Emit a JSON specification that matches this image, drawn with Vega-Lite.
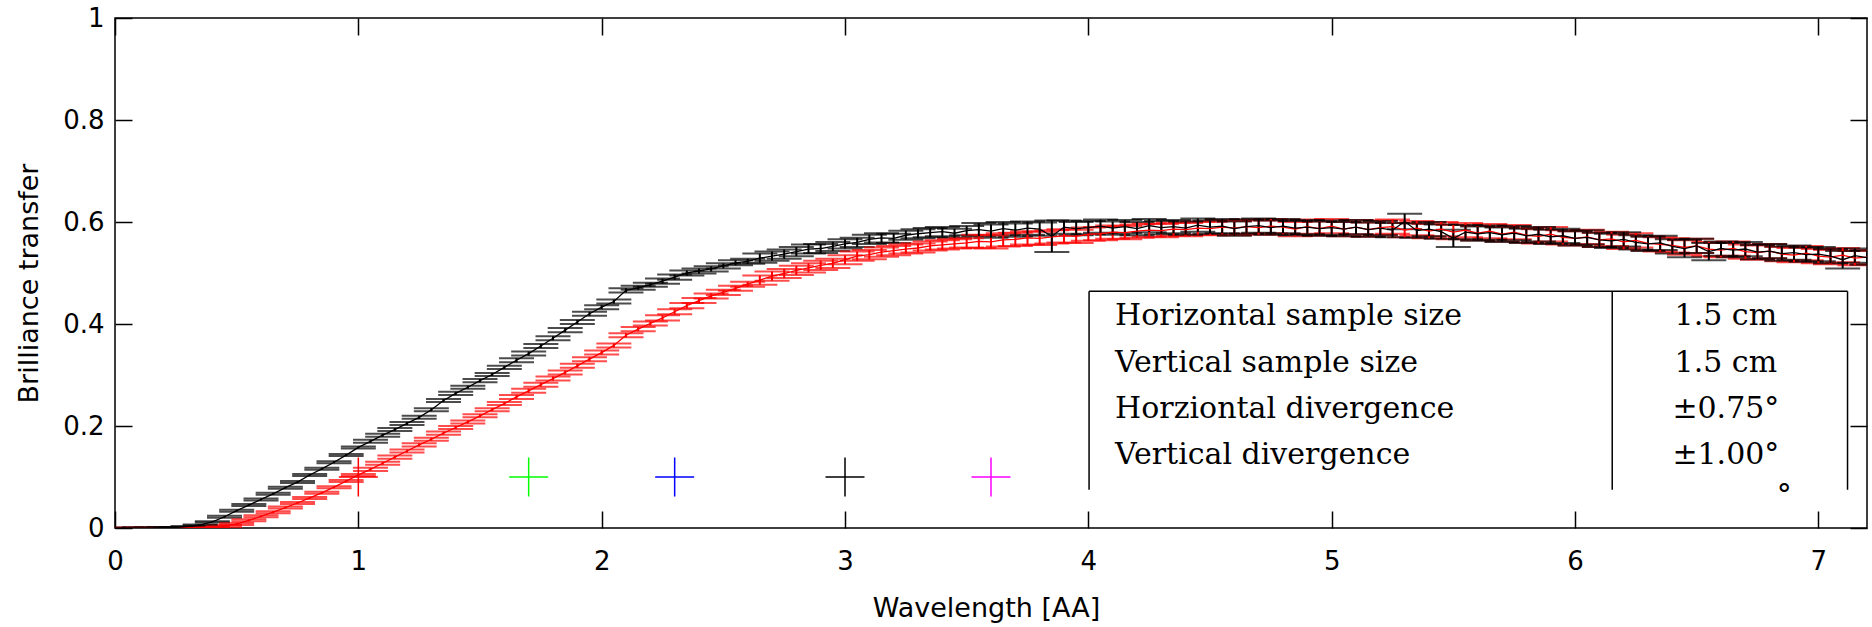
{
  "$schema": "https://vega.github.io/schema/vega-lite/v6.json",
  "width": 1752,
  "height": 510,
  "autosize": {"type": "none"},
  "padding": {"left": 115, "top": 18, "right": 5, "bottom": 99},
  "background": "white",
  "config": {"view": {"stroke": "#000000", "strokeWidth": 1.5}},
  "datasets": {
    "pts": [
      {"s":"R","x":0.05,"y":0,"e":0.001},{"s":"R","x":0.1,"y":0,"e":0.001},{"s":"R","x":0.15,"y":0,"e":0.001},{"s":"R","x":0.2,"y":0,"e":0.001},
      {"s":"R","x":0.25,"y":0,"e":0.001},{"s":"R","x":0.3,"y":0,"e":0.001},{"s":"R","x":0.35,"y":0.001,"e":0.001},{"s":"R","x":0.4,"y":0.002,"e":0.001},
      {"s":"R","x":0.45,"y":0.004,"e":0.002},{"s":"R","x":0.5,"y":0.008,"e":0.002},{"s":"R","x":0.55,"y":0.015,"e":0.002},{"s":"R","x":0.6,"y":0.023,"e":0.002},
      {"s":"R","x":0.65,"y":0.031,"e":0.002},{"s":"R","x":0.7,"y":0.04,"e":0.002},{"s":"R","x":0.75,"y":0.049,"e":0.002},{"s":"R","x":0.8,"y":0.059,"e":0.002},
      {"s":"R","x":0.85,"y":0.069,"e":0.002},{"s":"R","x":0.9,"y":0.08,"e":0.002},{"s":"R","x":0.95,"y":0.092,"e":0.002},{"s":"R","x":1.0,"y":0.104,"e":0.002},
      {"s":"R","x":1.05,"y":0.115,"e":0.003},{"s":"R","x":1.1,"y":0.127,"e":0.003},{"s":"R","x":1.15,"y":0.139,"e":0.003},{"s":"R","x":1.2,"y":0.151,"e":0.003},
      {"s":"R","x":1.25,"y":0.163,"e":0.003},{"s":"R","x":1.3,"y":0.174,"e":0.003},{"s":"R","x":1.35,"y":0.186,"e":0.003},{"s":"R","x":1.4,"y":0.197,"e":0.003},
      {"s":"R","x":1.45,"y":0.208,"e":0.003},{"s":"R","x":1.5,"y":0.22,"e":0.003},{"s":"R","x":1.55,"y":0.232,"e":0.003},{"s":"R","x":1.6,"y":0.244,"e":0.003},
      {"s":"R","x":1.65,"y":0.257,"e":0.004},{"s":"R","x":1.7,"y":0.269,"e":0.004},{"s":"R","x":1.75,"y":0.281,"e":0.004},{"s":"R","x":1.8,"y":0.293,"e":0.004},
      {"s":"R","x":1.85,"y":0.305,"e":0.004},{"s":"R","x":1.9,"y":0.318,"e":0.004},{"s":"R","x":1.95,"y":0.331,"e":0.004},{"s":"R","x":2.0,"y":0.344,"e":0.004},
      {"s":"R","x":2.05,"y":0.358,"e":0.004},{"s":"R","x":2.1,"y":0.378,"e":0.004},{"s":"R","x":2.15,"y":0.39,"e":0.004},{"s":"R","x":2.2,"y":0.401,"e":0.004},
      {"s":"R","x":2.25,"y":0.412,"e":0.005},{"s":"R","x":2.3,"y":0.424,"e":0.005},{"s":"R","x":2.35,"y":0.436,"e":0.005},{"s":"R","x":2.4,"y":0.446,"e":0.005},
      {"s":"R","x":2.45,"y":0.455,"e":0.005},{"s":"R","x":2.5,"y":0.462,"e":0.005},{"s":"R","x":2.55,"y":0.47,"e":0.005},{"s":"R","x":2.6,"y":0.478,"e":0.005},
      {"s":"R","x":2.65,"y":0.486,"e":0.009},{"s":"R","x":2.7,"y":0.494,"e":0.009},{"s":"R","x":2.75,"y":0.499,"e":0.009},{"s":"R","x":2.8,"y":0.505,"e":0.009},
      {"s":"R","x":2.85,"y":0.51,"e":0.009},{"s":"R","x":2.9,"y":0.515,"e":0.009},{"s":"R","x":2.95,"y":0.519,"e":0.009},{"s":"R","x":3.0,"y":0.526,"e":0.009},
      {"s":"R","x":3.05,"y":0.533,"e":0.009},{"s":"R","x":3.1,"y":0.536,"e":0.009},{"s":"R","x":3.15,"y":0.541,"e":0.009},{"s":"R","x":3.2,"y":0.544,"e":0.009},
      {"s":"R","x":3.25,"y":0.547,"e":0.009},{"s":"R","x":3.3,"y":0.549,"e":0.009},{"s":"R","x":3.35,"y":0.553,"e":0.009},{"s":"R","x":3.4,"y":0.555,"e":0.009},
      {"s":"R","x":3.45,"y":0.557,"e":0.009},{"s":"R","x":3.5,"y":0.559,"e":0.009},{"s":"R","x":3.55,"y":0.562,"e":0.013},{"s":"R","x":3.6,"y":0.561,"e":0.013},
      {"s":"R","x":3.65,"y":0.565,"e":0.013},{"s":"R","x":3.7,"y":0.566,"e":0.013},{"s":"R","x":3.75,"y":0.569,"e":0.013},{"s":"R","x":3.8,"y":0.568,"e":0.013},
      {"s":"R","x":3.85,"y":0.571,"e":0.013},{"s":"R","x":3.9,"y":0.573,"e":0.013},{"s":"R","x":3.95,"y":0.572,"e":0.013},{"s":"R","x":4.0,"y":0.576,"e":0.013},
      {"s":"R","x":4.05,"y":0.577,"e":0.013},{"s":"R","x":4.1,"y":0.58,"e":0.013},{"s":"R","x":4.15,"y":0.579,"e":0.013},{"s":"R","x":4.2,"y":0.582,"e":0.013},
      {"s":"R","x":4.25,"y":0.584,"e":0.013},{"s":"R","x":4.3,"y":0.583,"e":0.013},{"s":"R","x":4.35,"y":0.586,"e":0.013},{"s":"R","x":4.4,"y":0.585,"e":0.013},
      {"s":"R","x":4.45,"y":0.588,"e":0.013},{"s":"R","x":4.5,"y":0.587,"e":0.013},{"s":"R","x":4.55,"y":0.59,"e":0.014},{"s":"R","x":4.6,"y":0.588,"e":0.014},
      {"s":"R","x":4.65,"y":0.591,"e":0.014},{"s":"R","x":4.7,"y":0.589,"e":0.014},{"s":"R","x":4.75,"y":0.592,"e":0.014},{"s":"R","x":4.8,"y":0.59,"e":0.014},
      {"s":"R","x":4.85,"y":0.586,"e":0.014},{"s":"R","x":4.9,"y":0.591,"e":0.014},{"s":"R","x":4.95,"y":0.587,"e":0.014},{"s":"R","x":5.0,"y":0.592,"e":0.014},
      {"s":"R","x":5.05,"y":0.586,"e":0.014},{"s":"R","x":5.1,"y":0.59,"e":0.014},{"s":"R","x":5.15,"y":0.585,"e":0.014},{"s":"R","x":5.2,"y":0.589,"e":0.014},
      {"s":"R","x":5.25,"y":0.591,"e":0.014},{"s":"R","x":5.3,"y":0.584,"e":0.014},{"s":"R","x":5.35,"y":0.588,"e":0.014},{"s":"R","x":5.4,"y":0.582,"e":0.014},
      {"s":"R","x":5.45,"y":0.586,"e":0.014},{"s":"R","x":5.5,"y":0.58,"e":0.014},{"s":"R","x":5.55,"y":0.584,"e":0.014},{"s":"R","x":5.6,"y":0.578,"e":0.014},
      {"s":"R","x":5.65,"y":0.582,"e":0.014},{"s":"R","x":5.7,"y":0.576,"e":0.014},{"s":"R","x":5.75,"y":0.58,"e":0.014},{"s":"R","x":5.8,"y":0.574,"e":0.014},
      {"s":"R","x":5.85,"y":0.572,"e":0.014},{"s":"R","x":5.9,"y":0.576,"e":0.014},{"s":"R","x":5.95,"y":0.57,"e":0.014},{"s":"R","x":6.0,"y":0.568,"e":0.014},
      {"s":"R","x":6.05,"y":0.571,"e":0.014},{"s":"R","x":6.1,"y":0.565,"e":0.014},{"s":"R","x":6.15,"y":0.567,"e":0.014},{"s":"R","x":6.2,"y":0.561,"e":0.014},
      {"s":"R","x":6.25,"y":0.564,"e":0.014},{"s":"R","x":6.3,"y":0.558,"e":0.014},{"s":"R","x":6.35,"y":0.556,"e":0.014},{"s":"R","x":6.4,"y":0.554,"e":0.014},
      {"s":"R","x":6.45,"y":0.55,"e":0.014},{"s":"R","x":6.5,"y":0.553,"e":0.014},{"s":"R","x":6.55,"y":0.547,"e":0.014},{"s":"R","x":6.6,"y":0.545,"e":0.014},
      {"s":"R","x":6.65,"y":0.548,"e":0.014},{"s":"R","x":6.7,"y":0.542,"e":0.014},{"s":"R","x":6.75,"y":0.54,"e":0.014},{"s":"R","x":6.8,"y":0.543,"e":0.014},
      {"s":"R","x":6.85,"y":0.537,"e":0.014},{"s":"R","x":6.9,"y":0.535,"e":0.014},{"s":"R","x":6.95,"y":0.539,"e":0.014},{"s":"R","x":7.0,"y":0.533,"e":0.014},
      {"s":"R","x":7.05,"y":0.531,"e":0.014},{"s":"R","x":7.1,"y":0.535,"e":0.014},{"s":"R","x":7.15,"y":0.529,"e":0.014},{"s":"R","x":7.2,"y":0.531,"e":0.014},
      {"s":"B","x":0.05,"y":0,"e":0.001},{"s":"B","x":0.1,"y":0,"e":0.001},{"s":"B","x":0.15,"y":0,"e":0.001},{"s":"B","x":0.2,"y":0.001,"e":0.001},
      {"s":"B","x":0.25,"y":0.001,"e":0.001},{"s":"B","x":0.3,"y":0.003,"e":0.001},{"s":"B","x":0.35,"y":0.006,"e":0.001},{"s":"B","x":0.4,"y":0.012,"e":0.001},
      {"s":"B","x":0.45,"y":0.022,"e":0.002},{"s":"B","x":0.5,"y":0.034,"e":0.002},{"s":"B","x":0.55,"y":0.045,"e":0.002},{"s":"B","x":0.6,"y":0.056,"e":0.002},
      {"s":"B","x":0.65,"y":0.067,"e":0.002},{"s":"B","x":0.7,"y":0.079,"e":0.002},{"s":"B","x":0.75,"y":0.09,"e":0.002},{"s":"B","x":0.8,"y":0.104,"e":0.002},
      {"s":"B","x":0.85,"y":0.116,"e":0.002},{"s":"B","x":0.9,"y":0.129,"e":0.002},{"s":"B","x":0.95,"y":0.143,"e":0.002},{"s":"B","x":1.0,"y":0.158,"e":0.002},
      {"s":"B","x":1.05,"y":0.17,"e":0.003},{"s":"B","x":1.1,"y":0.182,"e":0.003},{"s":"B","x":1.15,"y":0.193,"e":0.003},{"s":"B","x":1.2,"y":0.205,"e":0.003},
      {"s":"B","x":1.25,"y":0.217,"e":0.003},{"s":"B","x":1.3,"y":0.232,"e":0.003},{"s":"B","x":1.35,"y":0.25,"e":0.003},{"s":"B","x":1.4,"y":0.264,"e":0.003},
      {"s":"B","x":1.45,"y":0.276,"e":0.003},{"s":"B","x":1.5,"y":0.289,"e":0.003},{"s":"B","x":1.55,"y":0.301,"e":0.003},{"s":"B","x":1.6,"y":0.315,"e":0.003},
      {"s":"B","x":1.65,"y":0.329,"e":0.004},{"s":"B","x":1.7,"y":0.342,"e":0.004},{"s":"B","x":1.75,"y":0.357,"e":0.004},{"s":"B","x":1.8,"y":0.372,"e":0.004},
      {"s":"B","x":1.85,"y":0.388,"e":0.004},{"s":"B","x":1.9,"y":0.404,"e":0.004},{"s":"B","x":1.95,"y":0.42,"e":0.004},{"s":"B","x":2.0,"y":0.433,"e":0.004},
      {"s":"B","x":2.05,"y":0.444,"e":0.004},{"s":"B","x":2.1,"y":0.466,"e":0.004},{"s":"B","x":2.15,"y":0.471,"e":0.004},{"s":"B","x":2.2,"y":0.477,"e":0.004},
      {"s":"B","x":2.25,"y":0.484,"e":0.005},{"s":"B","x":2.3,"y":0.492,"e":0.005},{"s":"B","x":2.35,"y":0.5,"e":0.005},{"s":"B","x":2.4,"y":0.504,"e":0.005},
      {"s":"B","x":2.45,"y":0.508,"e":0.005},{"s":"B","x":2.5,"y":0.514,"e":0.005},{"s":"B","x":2.55,"y":0.52,"e":0.005},{"s":"B","x":2.6,"y":0.523,"e":0.005},
      {"s":"B","x":2.65,"y":0.529,"e":0.009},{"s":"B","x":2.7,"y":0.533,"e":0.009},{"s":"B","x":2.75,"y":0.537,"e":0.009},{"s":"B","x":2.8,"y":0.542,"e":0.009},
      {"s":"B","x":2.85,"y":0.547,"e":0.009},{"s":"B","x":2.9,"y":0.548,"e":0.009},{"s":"B","x":2.95,"y":0.552,"e":0.009},{"s":"B","x":3.0,"y":0.557,"e":0.009},
      {"s":"B","x":3.05,"y":0.56,"e":0.009},{"s":"B","x":3.1,"y":0.566,"e":0.009},{"s":"B","x":3.15,"y":0.569,"e":0.009},{"s":"B","x":3.2,"y":0.568,"e":0.009},
      {"s":"B","x":3.25,"y":0.574,"e":0.009},{"s":"B","x":3.3,"y":0.577,"e":0.009},{"s":"B","x":3.35,"y":0.579,"e":0.009},{"s":"B","x":3.4,"y":0.581,"e":0.009},
      {"s":"B","x":3.45,"y":0.578,"e":0.009},{"s":"B","x":3.5,"y":0.583,"e":0.009},{"s":"B","x":3.55,"y":0.585,"e":0.013},{"s":"B","x":3.6,"y":0.582,"e":0.013},
      {"s":"B","x":3.65,"y":0.587,"e":0.013},{"s":"B","x":3.7,"y":0.584,"e":0.013},{"s":"B","x":3.75,"y":0.588,"e":0.013},{"s":"B","x":3.8,"y":0.586,"e":0.013},
      {"s":"B","x":3.85,"y":0.572,"e":0.031},{"s":"B","x":3.9,"y":0.59,"e":0.013},{"s":"B","x":3.95,"y":0.587,"e":0.013},{"s":"B","x":4.0,"y":0.589,"e":0.013},
      {"s":"B","x":4.05,"y":0.592,"e":0.013},{"s":"B","x":4.1,"y":0.588,"e":0.013},{"s":"B","x":4.15,"y":0.591,"e":0.013},{"s":"B","x":4.2,"y":0.587,"e":0.013},
      {"s":"B","x":4.25,"y":0.593,"e":0.013},{"s":"B","x":4.3,"y":0.589,"e":0.013},{"s":"B","x":4.35,"y":0.591,"e":0.013},{"s":"B","x":4.4,"y":0.588,"e":0.013},
      {"s":"B","x":4.45,"y":0.594,"e":0.013},{"s":"B","x":4.5,"y":0.59,"e":0.013},{"s":"B","x":4.55,"y":0.592,"e":0.014},{"s":"B","x":4.6,"y":0.587,"e":0.014},
      {"s":"B","x":4.65,"y":0.591,"e":0.014},{"s":"B","x":4.7,"y":0.593,"e":0.014},{"s":"B","x":4.75,"y":0.589,"e":0.014},{"s":"B","x":4.8,"y":0.592,"e":0.014},
      {"s":"B","x":4.85,"y":0.588,"e":0.014},{"s":"B","x":4.9,"y":0.59,"e":0.014},{"s":"B","x":4.95,"y":0.587,"e":0.014},{"s":"B","x":5.0,"y":0.589,"e":0.014},
      {"s":"B","x":5.05,"y":0.586,"e":0.014},{"s":"B","x":5.1,"y":0.59,"e":0.014},{"s":"B","x":5.15,"y":0.585,"e":0.014},{"s":"B","x":5.2,"y":0.588,"e":0.014},
      {"s":"B","x":5.25,"y":0.584,"e":0.014},{"s":"B","x":5.3,"y":0.601,"e":0.015},{"s":"B","x":5.35,"y":0.583,"e":0.014},{"s":"B","x":5.4,"y":0.586,"e":0.014},
      {"s":"B","x":5.45,"y":0.581,"e":0.014},{"s":"B","x":5.5,"y":0.568,"e":0.017},{"s":"B","x":5.55,"y":0.58,"e":0.014},{"s":"B","x":5.6,"y":0.577,"e":0.014},
      {"s":"B","x":5.65,"y":0.579,"e":0.014},{"s":"B","x":5.7,"y":0.575,"e":0.014},{"s":"B","x":5.75,"y":0.578,"e":0.014},{"s":"B","x":5.8,"y":0.573,"e":0.014},
      {"s":"B","x":5.85,"y":0.576,"e":0.014},{"s":"B","x":5.9,"y":0.571,"e":0.014},{"s":"B","x":5.95,"y":0.573,"e":0.014},{"s":"B","x":6.0,"y":0.568,"e":0.014},
      {"s":"B","x":6.05,"y":0.57,"e":0.014},{"s":"B","x":6.1,"y":0.565,"e":0.014},{"s":"B","x":6.15,"y":0.563,"e":0.014},{"s":"B","x":6.2,"y":0.566,"e":0.014},
      {"s":"B","x":6.25,"y":0.56,"e":0.014},{"s":"B","x":6.3,"y":0.557,"e":0.014},{"s":"B","x":6.35,"y":0.559,"e":0.014},{"s":"B","x":6.4,"y":0.552,"e":0.014},
      {"s":"B","x":6.45,"y":0.548,"e":0.017},{"s":"B","x":6.5,"y":0.553,"e":0.014},{"s":"B","x":6.55,"y":0.542,"e":0.017},{"s":"B","x":6.6,"y":0.548,"e":0.014},
      {"s":"B","x":6.65,"y":0.545,"e":0.014},{"s":"B","x":6.7,"y":0.547,"e":0.014},{"s":"B","x":6.75,"y":0.541,"e":0.014},{"s":"B","x":6.8,"y":0.543,"e":0.014},
      {"s":"B","x":6.85,"y":0.538,"e":0.014},{"s":"B","x":6.9,"y":0.54,"e":0.014},{"s":"B","x":6.95,"y":0.536,"e":0.014},{"s":"B","x":7.0,"y":0.537,"e":0.014},
      {"s":"B","x":7.05,"y":0.533,"e":0.014},{"s":"B","x":7.1,"y":0.526,"e":0.017},{"s":"B","x":7.15,"y":0.534,"e":0.014},{"s":"B","x":7.2,"y":0.53,"e":0.014}
    ],
    "markers": [
      {"x":1.0,"y":0.1,"c":"#ff0000"},
      {"x":1.7,"y":0.1,"c":"#00ff00"},
      {"x":2.3,"y":0.1,"c":"#0000ff"},
      {"x":3.0,"y":0.1,"c":"#000000"},
      {"x":3.6,"y":0.1,"c":"#ff00ff"}
    ],
    "tableLines": [
      {"x1":4.003,"x2":7.12,"y1":0.464,"y2":0.464},
      {"x1":4.003,"x2":4.003,"y1":0.075,"y2":0.464},
      {"x1":6.153,"x2":6.153,"y1":0.075,"y2":0.464},
      {"x1":7.12,"x2":7.12,"y1":0.075,"y2":0.464}
    ],
    "tableLabels": [
      {"x":4.11,"y":0.398,"t":"Horizontal sample size"},
      {"x":4.11,"y":0.306,"t":"Vertical sample size"},
      {"x":4.11,"y":0.216,"t":"Horziontal divergence"},
      {"x":4.11,"y":0.125,"t":"Vertical divergence"}
    ],
    "tableValues": [
      {"x":6.62,"y":0.398,"t":"1.5 cm"},
      {"x":6.62,"y":0.306,"t":"1.5 cm"},
      {"x":6.62,"y":0.216,"t":"±0.75°"},
      {"x":6.62,"y":0.125,"t":"±1.00°"},
      {"x":6.86,"y":0.046,"t":"°"}
    ],
    "frame": [{"x":0,"y":0}]
  },
  "layer": [
    {
      "data": {"name": "pts"},
      "mark": {"type": "errorbar", "ticks": {"size": 35}, "thickness": 2, "clip": true},
      "encoding": {
        "x": {"field": "x", "type": "quantitative", "scale": {"domain": [0, 7.2], "nice": false, "zero": false}, "axis": null},
        "y": {"field": "y", "type": "quantitative", "scale": {"domain": [0, 1], "nice": false}, "axis": null},
        "yError": {"field": "e"},
        "color": {"field": "s", "type": "nominal", "scale": {"domain": ["R", "B"], "range": ["#ff0000", "#000000"]}, "legend": null}
      }
    },
    {
      "data": {"name": "pts"},
      "mark": {"type": "line", "strokeWidth": 1.3, "clip": true},
      "encoding": {
        "x": {"field": "x", "type": "quantitative", "scale": {"domain": [0, 7.2], "nice": false, "zero": false}, "axis": null},
        "y": {"field": "y", "type": "quantitative", "scale": {"domain": [0, 1], "nice": false}, "axis": null},
        "color": {"field": "s", "type": "nominal", "scale": {"domain": ["R", "B"], "range": ["#ff0000", "#000000"]}, "legend": null}
      }
    },
    {
      "data": {"name": "markers"},
      "mark": {"type": "point", "shape": "M-1,0L1,0M0,-1L0,1", "size": 1521, "filled": false, "strokeWidth": 1.5, "opacity": 1},
      "encoding": {
        "x": {"field": "x", "type": "quantitative", "scale": {"domain": [0, 7.2], "nice": false, "zero": false}, "axis": null},
        "y": {"field": "y", "type": "quantitative", "scale": {"domain": [0, 1], "nice": false}, "axis": null},
        "stroke": {"field": "c", "type": "nominal", "scale": null, "legend": null}
      }
    },
    {
      "data": {"name": "tableLines"},
      "mark": {"type": "rule", "color": "#000000", "strokeWidth": 1.5},
      "encoding": {
        "x": {"field": "x1", "type": "quantitative", "scale": {"domain": [0, 7.2], "nice": false, "zero": false}, "axis": null},
        "x2": {"field": "x2"},
        "y": {"field": "y1", "type": "quantitative", "scale": {"domain": [0, 1], "nice": false}, "axis": null},
        "y2": {"field": "y2"}
      }
    },
    {
      "data": {"name": "tableLabels"},
      "mark": {"type": "text", "align": "left", "baseline": "alphabetic", "font": "DejaVu Serif", "fontSize": 30, "color": "#000000"},
      "encoding": {
        "x": {"field": "x", "type": "quantitative", "scale": {"domain": [0, 7.2], "nice": false, "zero": false}, "axis": null},
        "y": {"field": "y", "type": "quantitative", "scale": {"domain": [0, 1], "nice": false}, "axis": null},
        "text": {"field": "t"}
      }
    },
    {
      "data": {"name": "tableValues"},
      "mark": {"type": "text", "align": "center", "baseline": "alphabetic", "font": "DejaVu Serif", "fontSize": 30, "color": "#000000"},
      "encoding": {
        "x": {"field": "x", "type": "quantitative", "scale": {"domain": [0, 7.2], "nice": false, "zero": false}, "axis": null},
        "y": {"field": "y", "type": "quantitative", "scale": {"domain": [0, 1], "nice": false}, "axis": null},
        "text": {"field": "t"}
      }
    },
    {
      "data": {"name": "frame"},
      "mark": {"type": "point", "opacity": 0},
      "encoding": {
        "x": {"field": "x", "type": "quantitative", "scale": {"domain": [0, 7.2], "nice": false, "zero": false},
          "axis": {"orient": "bottom", "values": [0,1,2,3,4,5,6,7], "format": "d", "grid": false, "domain": false,
            "tickSize": -17, "tickWidth": 1.5, "tickColor": "#000000",
            "labelPadding": 37, "labelFontSize": 26, "labelFont": "DejaVu Sans", "labelColor": "#000000", "labelFlush": false, "labelOverlap": false,
            "title": "Wavelength [AA]", "titleFont": "DejaVu Sans", "titleFontSize": 27, "titleFontWeight": "normal", "titleColor": "#000000",
            "titleBaseline": "alphabetic", "titleY": 88, "titleX": 871}},
        "y": {"field": "y", "type": "quantitative", "scale": {"domain": [0, 1], "nice": false},
          "axis": {"orient": "left", "values": [0,0.2,0.4,0.6,0.8,1], "format": "~g", "grid": false, "domain": false,
            "tickSize": -17, "tickWidth": 1.5, "tickColor": "#000000",
            "labelPadding": 28, "labelFontSize": 26, "labelFont": "DejaVu Sans", "labelColor": "#000000", "labelFlush": false, "labelOverlap": false,
            "title": "Brilliance transfer", "titleFont": "DejaVu Sans", "titleFontSize": 27, "titleFontWeight": "normal", "titleColor": "#000000",
            "titleAngle": -90, "titleBaseline": "alphabetic", "titleAlign": "center", "titleX": -78, "titleY": 265}}
      }
    },
    {
      "data": {"name": "frame"},
      "mark": {"type": "point", "opacity": 0},
      "encoding": {
        "x": {"field": "x", "type": "quantitative", "scale": {"domain": [0, 7.2], "nice": false, "zero": false},
          "axis": {"orient": "top", "values": [0,1,2,3,4,5,6,7], "labels": false, "title": null, "grid": false, "domain": false,
            "tickSize": -17, "tickWidth": 1.5, "tickColor": "#000000"}},
        "y": {"field": "y", "type": "quantitative", "scale": {"domain": [0, 1], "nice": false},
          "axis": {"orient": "right", "values": [0,0.2,0.4,0.6,0.8,1], "labels": false, "title": null, "grid": false, "domain": false,
            "tickSize": -17, "tickWidth": 1.5, "tickColor": "#000000"}}
      }
    }
  ],
  "resolve": {"axis": {"x": "independent", "y": "independent"}}
}
